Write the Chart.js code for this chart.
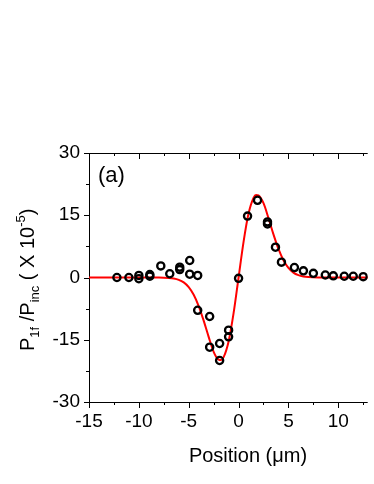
<!DOCTYPE html>
<html lang="en">
<head>
<meta charset="UTF-8">
<title>P1f/Pinc vs Position</title>
<script src="https://cdn.jsdelivr.net/npm/chart.js"></script>
<style>
    body {
        margin: 0;
        padding: 0;
        background-color: #fff;
    }
    .wrap {
        position: relative;
        width: 374px;
        height: 484px;
    }
</style>
</head>
<body>
<div class="wrap">
    <canvas id="chart"></canvas>
</div>

<script>
    // measured signal (open circles)
    var posX = [-12.2, -11.0, -10.0, -10.0, -8.9, -8.9, -7.8, -6.9, -5.9, -5.9, -4.9, -4.9, -4.1,
                -4.1, -2.9, -2.9, -1.9, -1.9, -1.0, -1.0, 0.0, 0.9, 1.9, 2.9, 2.9, 3.7, 4.3,
                5.6, 6.5, 7.5, 8.7, 9.5, 10.6, 11.5, 12.5];
    var signal = [0.0, 0.0, 0.5, -0.3, 0.7, 0.3, 2.8, 0.9, 2.5, 1.9, 4.1, 0.8, 0.5,
                  -7.9, -9.4, -16.8, -15.9, -20.0, -12.7, -14.3, -0.2, 14.8, 18.6, 13.4, 12.9, 7.3, 3.7,
                  2.4, 1.6, 1.0, 0.6, 0.4, 0.3, 0.3, 0.2];

    // fitted curve (red line)
    var fitX = [-15, -12, -10, -8, -7, -6.5, -6, -5.5, -5, -4.5, -4, -3.5, -3, -2.5, -2, -1.75,
                -1.5, -1, -0.5, 0, 0.5, 1, 1.5, 1.75, 2, 2.5, 3, 3.5, 4, 4.5, 5, 5.5, 6, 6.5,
                7, 8, 10, 12, 13];
    var fitY = [0, 0, 0, -0.02, -0.1, -0.24, -0.56, -1.18, -2.31, -4.16, -6.88, -10.4, -14.3, -17.9, -19.8, -19.9,
                -19.2, -15.4, -8.6, 0, 8.6, 15.4, 19.2, 19.9, 19.8, 17.9, 14.3, 10.4, 6.88, 4.16, 2.31, 1.18, 0.56, 0.24,
                0.1, 0.02, 0, 0, 0];

    var xTicks = [-15, -10, -5, 0, 5, 10];
    var xMinor = [-12.5, -7.5, -2.5, 2.5, 7.5, 12.5];
    var yTicks = [-30, -15, 0, 15, 30];
    var yMinor = [-22.5, -7.5, 7.5, 22.5];

    var fontFamily = '"Liberation Sans", Arial, sans-serif';

    // frame, tick marks and axis titles, drawn like the Origin plot
    var framePlugin = {
        id: 'frame',
        beforeDatasetsDraw: function(chart) {
            var ctx = chart.ctx;
            var a = chart.chartArea;
            var xs = chart.scales.x, ys = chart.scales.y;
            ctx.save();
            ctx.strokeStyle = '#000';
            ctx.lineWidth = 1;
            ctx.beginPath();
            ctx.moveTo(a.right, a.top + 0.5);
            ctx.lineTo(a.left + 0.5, a.top + 0.5);
            ctx.lineTo(a.left + 0.5, a.bottom + 0.5);
            ctx.lineTo(a.right, a.bottom + 0.5);
            xTicks.concat(xMinor).forEach(function(v) {
                var px = Math.round(xs.getPixelForValue(v)) + 0.5;
                var len = xTicks.indexOf(v) >= 0 ? 6 : 3;
                ctx.moveTo(px, a.bottom);
                ctx.lineTo(px, a.bottom + len);
                ctx.moveTo(px, a.top);
                ctx.lineTo(px, a.top + len);
            });
            yTicks.concat(yMinor).forEach(function(v) {
                var py = Math.round(ys.getPixelForValue(v)) + 0.5;
                var len = yTicks.indexOf(v) >= 0 ? 5 : 3;
                ctx.moveTo(a.left, py);
                ctx.lineTo(a.left - len, py);
            });
            ctx.stroke();
            ctx.restore();
        },
        afterDraw: function(chart) {
            var ctx = chart.ctx;
            ctx.save();
            ctx.fillStyle = '#000';
            ctx.textBaseline = 'alphabetic';

            // panel label
            ctx.font = '22px ' + fontFamily;
            ctx.textAlign = 'left';
            ctx.fillText('(a)', 98, 182);

            // x title
            ctx.font = '20px ' + fontFamily;
            ctx.textAlign = 'center';
            ctx.fillText('Position (\u03bcm)', 248, 462);

            // y title with sub/superscripts
            ctx.translate(33.5, 351);
            ctx.rotate(-Math.PI / 2);
            ctx.textAlign = 'left';
            var parts = [
                ['P', 20, 0],
                ['1f', 13, 5],
                [' /P', 20, 0],
                ['inc', 13, 5],
                [' ( X 10', 20, 0],
                ['-5', 13, -9],
                [')', 20, 0]
            ];
            var cx = 0;
            parts.forEach(function(p) {
                ctx.font = p[1] + 'px ' + fontFamily;
                ctx.fillText(p[0], cx, p[2]);
                cx += ctx.measureText(p[0]).width;
            });
            ctx.restore();
        }
    };

    var ctx = document.getElementById('chart').getContext('2d');
    var chart = new Chart(ctx, {
        type: 'scatter',
        data: {
            datasets: [{
                label: 'Measured',
                data: posX.map(function(x, i) { return { x: x, y: signal[i] }; }),
                pointStyle: 'circle',
                pointRadius: 3.6,
                pointBorderWidth: 2.3,
                borderColor: '#000',
                backgroundColor: 'rgba(0,0,0,0)',
                order: 1
            }, {
                label: 'Fit',
                type: 'line',
                data: fitX.map(function(x, i) { return { x: x, y: fitY[i] }; }),
                borderColor: '#ff0000',
                borderWidth: 2,
                pointRadius: 0,
                cubicInterpolationMode: 'monotone',
                fill: false,
                order: 2
            }]
        },
        options: {
            responsive: true,
            maintainAspectRatio: false,
            animation: false,
            layout: {
                padding: { top: 153, right: 0, bottom: 0, left: 0 }
            },
            plugins: {
                legend: { display: false },
                tooltip: { enabled: false }
            },
            scales: {
                x: {
                    type: 'linear',
                    min: -15,
                    max: 12.95,
                    grid: { display: false, drawTicks: false },
                    border: { display: false },
                    afterBuildTicks: function(scale) {
                        scale.ticks = xTicks.map(function(v) { return { value: v }; });
                    },
                    afterFit: function(scale) { scale.height = 82; },
                    ticks: {
                        color: '#000',
                        padding: 8,
                        maxRotation: 0,
                        font: { family: fontFamily, size: 19 }
                    }
                },
                y: {
                    min: -30,
                    max: 30,
                    grid: { display: false, drawTicks: false },
                    border: { display: false },
                    afterBuildTicks: function(scale) {
                        scale.ticks = yTicks.map(function(v) { return { value: v }; });
                    },
                    afterFit: function(scale) { scale.width = 89; },
                    ticks: {
                        color: '#000',
                        padding: 9,
                        font: { family: fontFamily, size: 19 }
                    }
                }
            }
        },
        plugins: [framePlugin]
    });
</script>
</body>
</html>
